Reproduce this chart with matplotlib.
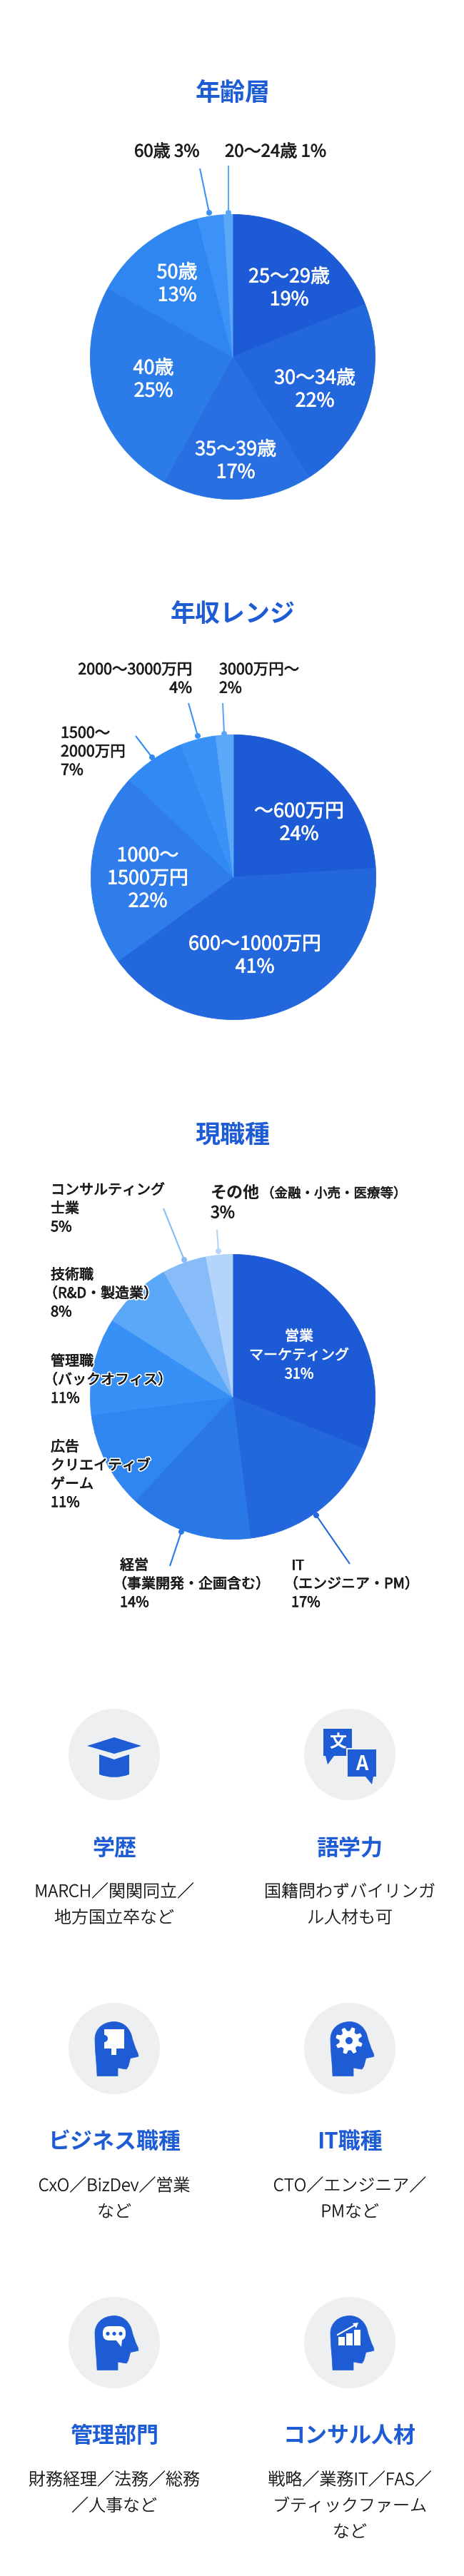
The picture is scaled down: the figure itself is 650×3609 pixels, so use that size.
import numpy as np
import matplotlib
matplotlib.use("Agg")
import matplotlib.pyplot as plt
import matplotlib.patheffects as pe
from matplotlib.patches import Circle, Polygon, PathPatch, Rectangle, FancyBboxPatch
from matplotlib.path import Path

plt.rcParams['font.family'] = ['Noto Sans CJK JP', 'DejaVu Sans']

W, H = 650, 3609
BLUE = '#1e5cd6'
DARK = '#1c1c1c'
GREY = '#eeeff0'

# data
age_labels = ['25〜29歳', '30〜34歳', '35〜39歳', '40歳', '50歳', '60歳', '20〜24歳']
age_values = [19, 22, 17, 25, 13, 3, 1]

income_labels = ['〜600万円', '600〜1000万円', '1000〜\n1500万円', '1500〜\n2000万円', '2000〜3000万円', '3000万円〜']
income_values = [24, 41, 22, 7, 4, 2]

job_labels = ['営業\nマーケティング', 'IT\n（エンジニア・PM）', '経営\n（事業開発・企画含む）', '広告\nクリエイティブ\nゲーム',
              '管理職\n（バックオフィス）', '技術職\n（R&D・製造業）', 'コンサルティング\n士業', 'その他']
job_values = [31, 17, 14, 11, 11, 8, 5, 3]
job_other_note = '（金融・小売・医療等）'

cards = [
    ('学歴', ['MARCH／関関同立／', '地方国立卒など']),
    ('語学力', ['国籍問わずバイリンガ', 'ル人材も可']),
    ('ビジネス職種', ['CxO／BizDev／営業', 'など']),
    ('IT職種', ['CTO／エンジニア／', 'PMなど']),
    ('管理部門', ['財務経理／法務／総務', '／人事など']),
    ('コンサル人材', ['戦略／業務IT／FAS／', 'ブティックファーム', 'など']),
]

age_colors = ['#1d5bd6', '#2367dd', '#2870e2', '#2b7be8', '#2f86f0', '#3c92f6', '#5ba8f8']
income_colors = ['#1d5bd6', '#2367dd', '#2e7deb', '#318af3', '#3a92f6', '#5ba8f8']
job_colors = ['#1d5bd6', '#2367dd', '#2a77e6', '#2f86f0', '#3790f5', '#5ba8f8', '#87bcf9', '#b4d5fb']


def pt(px):
    return px * 72 / 100


fig = plt.figure(figsize=(W / 100, H / 100), dpi=100, facecolor='white')


def draw_pie(cx, cy, r, values, colors):
    ax = fig.add_axes([(cx - r) / W, 1 - (cy + r) / H, 2 * r / W, 2 * r / H])
    wedges, _ = ax.pie(values, colors=colors, startangle=90, counterclock=False, radius=0.998,
                       wedgeprops={'linewidth': 0.6})
    # same colour edge hides the hairline seams between slices
    for w, c in zip(wedges, colors):
        w.set_edgecolor(c)
    ax.set_xlim(-1, 1)
    ax.set_ylim(-1, 1)
    ax.axis('off')


draw_pie(326, 500, 200, age_values, age_colors)
draw_pie(327, 1229, 200, income_values, income_colors)
draw_pie(326, 1957, 200, job_values, job_colors)

# overlay in pixel coordinates for text, leaders and icons
ov = fig.add_axes([0, 0, 1, 1], zorder=5)
ov.set_xlim(0, W)
ov.set_ylim(H, 0)
ov.axis('off')
ov.patch.set_alpha(0)


def label(x, y, lines, size, step, ha='center', color='white', weight='normal', thick=0.5, halo=False):
    for i, line in enumerate(lines):
        lx = x
        # the reference sets brackets tight, so pull the opening one back to the margin
        if ha == 'left' and line.startswith('（') and step > 0:
            lx = x - 0.5 * size
        t = ov.text(lx, y + i * step + 0.36 * size, line, fontsize=pt(size), ha=ha, va='baseline',
                    color=color, fontweight=weight)
        effects = []
        if halo:
            effects.append(pe.withStroke(linewidth=3, foreground='white'))
        if thick:
            effects.append(pe.withStroke(linewidth=thick, foreground=color))
        if effects:
            t.set_path_effects(effects)


def leader(x0, y0, x1, y1, color):
    ov.plot([x0, x1], [y0, y1], color=color, lw=1.5, solid_capstyle='butt')
    ov.add_patch(Circle((x1, y1), 4, color=color, lw=0))


def block(text, value):
    return text.split('\n') + [f'{value}%']


# titles
label(326, 129, ['年齢層'], 35, 0, color=BLUE, weight='bold', thick=0)
label(326, 858, ['年収レンジ'], 35, 0, color=BLUE, weight='bold', thick=0)
label(326, 1588, ['現職種'], 35, 0, color=BLUE, weight='bold', thick=0)

# age pie labels
age_pos = [(405, 386), (441, 528), (330, 628), (215, 514), (248, 380)]
for (x, y), name, val in zip(age_pos, age_labels, age_values):
    label(x, y, block(name, val), 27, 32)
label(188, 211, [f'{age_labels[5]} {age_values[5]}%'], 24, 0, ha='left', color=DARK)
label(315, 211, [f'{age_labels[6]} {age_values[6]}%'], 24, 0, ha='left', color=DARK)
leader(280, 236, 293, 298, age_colors[5])
leader(320, 232, 320, 298, age_colors[6])

# income pie labels
label(419, 1135, block(income_labels[0], income_values[0]), 27, 32)
label(357, 1321, block(income_labels[1], income_values[1]), 27, 32)
label(207, 1197, block(income_labels[2], income_values[2]), 27, 32)
label(85, 1026, block(income_labels[3], income_values[3]), 21.5, 26, ha='left', color=DARK)
label(269, 937, block(income_labels[4], income_values[4]), 21.5, 26, ha='right', color=DARK)
label(307, 937, block(income_labels[5], income_values[5]), 21.5, 26, ha='left', color=DARK)
leader(190, 1031, 213, 1061, income_colors[3])
leader(264, 985, 277, 1031, income_colors[4])
leader(312, 985, 314, 1028, income_colors[5])

# job pie labels
label(419, 1871, block(job_labels[0], job_values[0]), 20, 26.5)
label(408, 2192, block(job_labels[1], job_values[1]), 20, 26, ha='left', color=DARK, halo=True)
label(168, 2192, block(job_labels[2], job_values[2]), 20, 26, ha='left', color=DARK, halo=True)
label(71, 2026, block(job_labels[3], job_values[3]), 20, 26, ha='left', color=DARK, halo=True)
label(71, 1906, block(job_labels[4], job_values[4]), 20, 26, ha='left', color=DARK, halo=True)
label(71, 1785, block(job_labels[5], job_values[5]), 20, 26, ha='left', color=DARK, halo=True)
label(71, 1666, block(job_labels[6], job_values[6]), 20, 26, ha='left', color=DARK, halo=True)
label(295, 1670, [job_labels[7]], 23, 0, ha='left', color=DARK, weight='bold', thick=0)
label(366, 1671, [job_other_note], 18.5, 0, ha='left', color=DARK)
label(295, 1698, [f'{job_values[7]}%'], 23, 0, ha='left', color=DARK)
leader(490, 2191, 443, 2123, job_colors[1])
leader(238, 2194, 254, 2146, job_colors[2])
leader(229, 1693, 258, 1765, job_colors[6])
leader(304, 1723, 306, 1753, job_colors[7])


# icons, offsets in pixels from the circle centre
def head(cx, cy):
    verts = [(-24, 36), (-24, 38.5), (-22, 38.5), (3, 38.5), (5, 38.5), (5, 36), (5, 27),
             (10, 28), (17, 29), (19.6, 25), (21, 20), (22.7, 13.4), (22.7, 13.4),
             (28, 13), (34, 11), (33.2, 7), (30, 0), (25.4, -13.4), (25.4, -13.4),
             (23, -28), (13, -37.5), (0, -37.5), (-16, -37.5), (-27, -27), (-27, -13.4),
             (-27, 0), (-25, 20), (-24, 36)]
    codes = [Path.MOVETO, Path.LINETO, Path.LINETO, Path.LINETO, Path.LINETO, Path.LINETO, Path.LINETO,
             Path.CURVE3, Path.CURVE3, Path.LINETO, Path.LINETO, Path.LINETO, Path.LINETO,
             Path.CURVE3, Path.CURVE3, Path.LINETO, Path.LINETO, Path.LINETO, Path.LINETO,
             Path.CURVE4, Path.CURVE4, Path.CURVE4, Path.CURVE4, Path.CURVE4, Path.CURVE4,
             Path.CURVE3, Path.CURVE3, Path.LINETO]
    path = Path(np.array(verts) + (cx, cy), codes)
    ov.add_patch(PathPatch(path, fc=BLUE, ec=BLUE, lw=0.5))


def icon_cap(cx, cy):
    ov.add_patch(Polygon([(cx - 38, cy - 12), (cx, cy - 24), (cx + 38, cy - 12), (cx, cy - 1)], fc=BLUE, lw=0))
    verts = [(-21, 0), (0, 7), (21, 0), (21, 28), (0, 36), (-21, 28), (-21, 0)]
    codes = [Path.MOVETO, Path.LINETO, Path.LINETO, Path.LINETO, Path.CURVE3, Path.CURVE3, Path.CLOSEPOLY]
    ov.add_patch(PathPatch(Path(np.array(verts) + (cx, cy), codes), fc=BLUE, lw=0))


def icon_translate(cx, cy):
    ov.add_patch(Rectangle((cx - 37, cy - 36), 40, 38, fc=BLUE, lw=0))
    ov.add_patch(Polygon([(cx - 34, cy + 2), (cx - 31, cy + 14), (cx - 22, cy + 2)], fc=BLUE, lw=0))
    ov.add_patch(Rectangle((cx - 5, cy - 9), 44, 42, fc=GREY, lw=0))
    ov.add_patch(Rectangle((cx - 3, cy - 7), 40, 38, fc=BLUE, lw=0))
    ov.add_patch(Polygon([(cx + 22, cy + 31), (cx + 31, cy + 42), (cx + 33, cy + 31)], fc=BLUE, lw=0))
    label(cx - 17, cy - 19, ['文'], 24, 0, weight='bold', thick=0)
    label(cx + 17, cy + 12, ['A'], 27, 0, weight='bold', thick=0)


def icon_puzzle(cx, cy):
    head(cx, cy)
    ov.add_patch(Rectangle((cx - 14, cy - 27), 28, 27, fc='white', lw=0))
    ov.add_patch(Rectangle((cx - 4, cy - 1), 7, 10, fc='white', lw=0))
    ov.add_patch(Circle((cx - 14, cy - 14), 5, fc=BLUE, lw=0))


def icon_gear(cx, cy):
    head(cx, cy)
    gx, gy = cx - 1, cy - 11
    ang = np.linspace(0, 2 * np.pi, 48, endpoint=False)
    rad = np.where((np.arange(48) % 6) < 3, 19, 13.5)
    ov.add_patch(Polygon(np.c_[gx + rad * np.cos(ang + 0.2), gy + rad * np.sin(ang + 0.2)], fc='white', lw=0))
    ov.add_patch(Circle((gx, gy), 5, fc=BLUE, lw=0))


def icon_bubble(cx, cy):
    head(cx, cy)
    ov.add_patch(FancyBboxPatch((cx - 11, cy - 18), 22, 10, boxstyle='round,pad=5,rounding_size=9', fc='white', lw=0))
    ov.add_patch(Polygon([(cx + 2, cy - 4), (cx + 10, cy + 6), (cx + 11, cy - 4)], fc='white', lw=0))
    for dx in (-9, 0, 9):
        ov.add_patch(Circle((cx + dx, cy - 12.5), 2.6, fc=BLUE, lw=0))


def icon_chart(cx, cy):
    head(cx, cy)
    for x0, top in ((-16, -8), (-5, -13), (5.5, -18)):
        ov.add_patch(Rectangle((cx + x0, cy + top), 9, 3.7 - top, fc='white', lw=0))
    ov.plot([cx - 17, cx + 8], [cy - 11, cy - 25], color='white', lw=1.5)
    ov.add_patch(Polygon([(cx + 12, cy - 28), (cx + 4, cy - 27), (cx + 9, cy - 20)], fc='white', lw=0))


icon_funcs = [icon_cap, icon_translate, icon_puzzle, icon_gear, icon_bubble, icon_chart]
col_x = [160, 490]
row_y = [2458, 2870, 3282]

for i, ((title, body), func) in enumerate(zip(cards, icon_funcs)):
    cx = col_x[i % 2]
    cy = row_y[i // 2]
    ov.add_patch(Circle((cx, cy), 64, fc=GREY, lw=0))
    func(cx, cy)
    label(cx, cy + 129, [title], 31, 0, color=BLUE, weight='bold', thick=0)
    label(cx, cy + 191, body, 24, 36.5, color=DARK, weight='light', thick=0.15)

fig.savefig('out.png', dpi=100, facecolor='white')
